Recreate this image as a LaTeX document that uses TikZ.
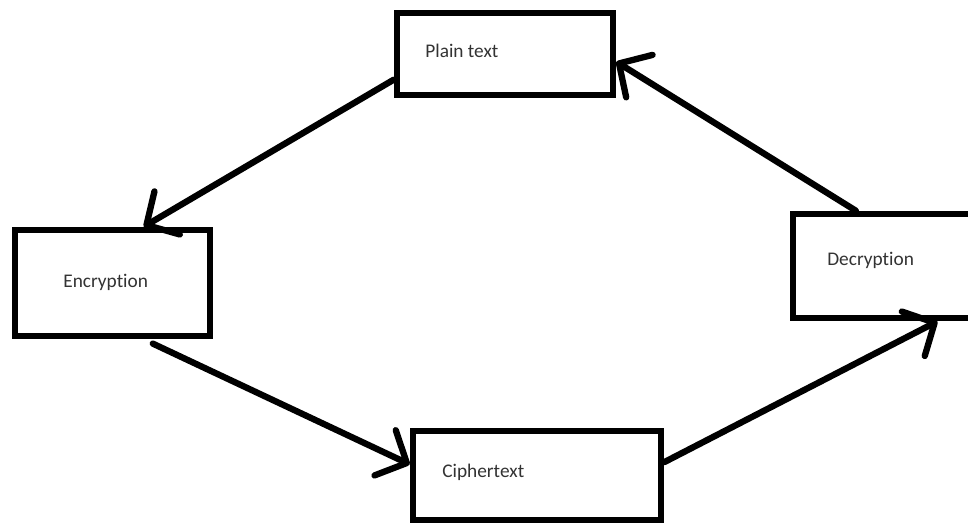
\documentclass[tikz,border=0pt]{standalone}
\usepackage{fontspec}
\setmainfont[Ligatures=NoCommon]{Carlito}
\usetikzlibrary{arrows.meta}
\definecolor{inkgray}{RGB}{51,51,51}
\tikzset{
  box/.style={draw=black, line width=3.8pt, inner sep=0pt},
  boxtext/.style={anchor=base west, inner sep=0pt, font=\fontsize{11}{13}\selectfont, text=inkgray},
  flow/.style={line width=3.6pt, line cap=round, -{Straight Barb[length=0.48cm, width=1.0cm, round]}}
}
\begin{document}
\begin{tikzpicture}[x=0.02cm, y=-0.02cm]
  \clip (0,0) rectangle (968,525);
  % the four boxes
  \node[box, minimum width=4.32cm, minimum height=1.64cm] (plain) at (505,54) {};
  \node[box, minimum width=3.9cm, minimum height=2.12cm] (enc) at (112.5,283) {};
  \node[box, minimum width=3.64cm, minimum height=2.08cm] (dec) at (884,266) {};
  \node[box, minimum width=4.96cm, minimum height=1.78cm] (ciph) at (537,475.5) {};
  % texts
  \node[boxtext] (plainlbl) at (425,57) {Plain text};
  \node[boxtext] (enclbl) at (63,287) {Encryption};
  \node[boxtext] (declbl) at (827,265) {Decryption};
  \node[boxtext] (ciphlbl) at (442,477) {Ciphertext};
  % cycle
  \draw[flow] (plain.193) -- (enc.61);
  \draw[flow, shorten <=0.2cm] (enc.299) -- (ciph.175);
  \draw[flow] (ciph.6) -- (dec.314);
  \draw[flow] (dec.117) -- (plain.356);
\end{tikzpicture}
\end{document}
